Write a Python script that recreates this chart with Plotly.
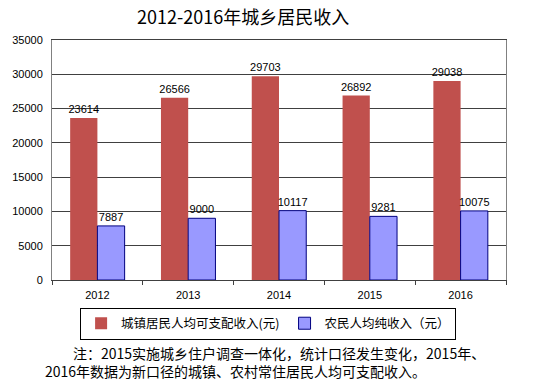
import plotly.graph_objects as go

years = ["2012", "2013", "2014", "2015", "2016"]
urban = [23614, 26566, 29703, 26892, 29038]
rural = [7887, 9000, 10117, 9281, 10075]
urban_name = "城镇居民人均可支配收入(元)"
rural_name = "农民人均纯收入（元）"
title = "2012-2016年城乡居民收入"
note = ("　　注：2015实施城乡住户调查一体化，统计口径发生变化，2015年、<br>"
        "2016年数据为新口径的城镇、农村常住居民人均可支配收入。")

cjk = "Noto Sans CJK SC"
num_font = "Liberation Sans, Arial"

fig = go.Figure()
fig.add_trace(go.Bar(
    x=years, y=urban, name=urban_name,
    marker=dict(color="#C0504D", line=dict(width=0)),
    text=[str(v) for v in urban], textposition="outside", constraintext="none",
    textfont=dict(family=num_font, size=11, color="#000"),
    cliponaxis=False,
))
fig.add_trace(go.Bar(
    x=years, y=rural, name=rural_name,
    marker=dict(color="#9999FF", line=dict(color="#000080", width=1)),
    text=[str(v) for v in rural], textposition="outside", constraintext="none",
    textfont=dict(family=num_font, size=11, color="#000"),
    cliponaxis=False,
))

fig.update_layout(
    width=544, height=387,
    margin=dict(l=48, r=38, t=40, b=107),
    paper_bgcolor="white", plot_bgcolor="white",
    barmode="group", bargap=0.4, bargroupgap=0,
    title=dict(text=title, x=0.447, xanchor="center", y=0.955, yanchor="middle",
               font=dict(family=cjk, size=18, color="#000")),
    showlegend=True,
    legend=dict(orientation="h", x=0.476, xanchor="center", y=-0.115, yanchor="top",
                bordercolor="#000", borderwidth=1,
                font=dict(family=cjk, size=12.5, color="#000"),
                itemwidth=30, traceorder="normal", tracegroupgap=0),
    yaxis=dict(range=[0, 35000], dtick=5000, tickformat="d", showgrid=True,
               gridcolor="#404040", gridwidth=1,
               showline=True, linecolor="#808080", mirror=True, ticks="", ticklen=0,
               ticklabelstandoff=6,
               tickfont=dict(family=num_font, size=11, color="#000"), zeroline=False),
    xaxis=dict(showline=True, linecolor="#404040", mirror=True, ticks="outside", ticklen=4,
               tickcolor="#404040", tickson="boundaries", ticklabelstandoff=5,
               tickfont=dict(family=num_font, size=11, color="#000")),
    annotations=[dict(text=note, xref="paper", yref="paper", x=-0.02, y=-0.34,
                      xanchor="left", yanchor="middle", align="left", showarrow=False,
                      font=dict(family=cjk, size=14, color="#000"))],
)

fig.write_html("out.html", config={"displayModeBar": False},
               post_script="document.body.style.margin='0';")
